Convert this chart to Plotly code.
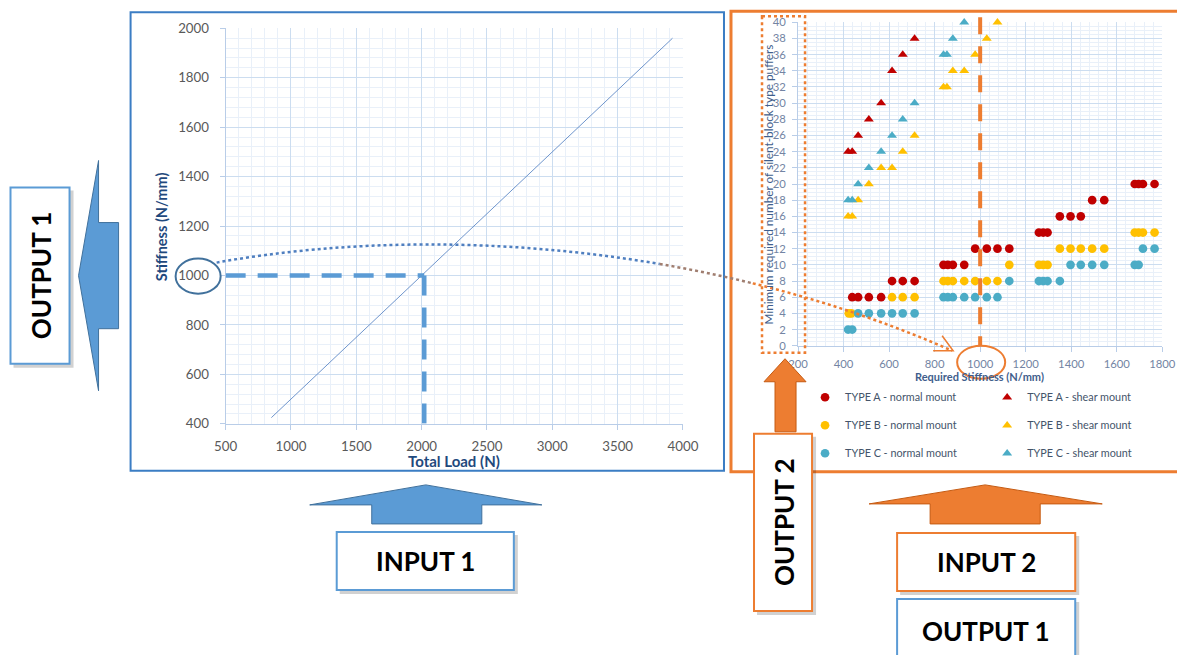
import plotly.graph_objects as go

# Figure canvas; layout positions below are given in window pixels and
# converted to paper fractions by px()/py().
W, H = 1200, 672
SX, OX = 0.976, 10.5   # window px = OX + SX * figure px (horizontal)
SY, OY = 0.975, 7.7    # window px = OY + SY * figure px (vertical)

# ---------------- data ----------------
# Stiffness vs total load (linear characteristic)
total_load = [850, 3920]
stiffness = [425, 1960]

# Required stiffness (N/mm) vs minimum number of silent-block puffers
a_normal_x = [438, 464, 511, 565, 613, 660, 712, 839, 858, 880, 930, 978, 1029, 1076, 1128,
              1258, 1277, 1296, 1350, 1397, 1442, 1492, 1545, 1679, 1696, 1715, 1766]
a_normal_y = [6, 6, 6, 6, 8, 8, 8, 10, 10, 10, 10, 12, 12, 12, 12,
              14, 14, 14, 16, 16, 16, 18, 18, 20, 20, 20, 20]

b_normal_x = [423, 434, 613, 660, 712, 839, 858, 880, 930, 978, 1029, 1076, 1128,
              1258, 1277, 1296, 1350, 1397, 1442, 1492, 1545, 1679, 1696, 1715, 1766]
b_normal_y = [4, 4, 6, 6, 6, 8, 8, 8, 8, 8, 8, 8, 10,
              10, 10, 10, 12, 12, 12, 12, 12, 14, 14, 14, 14]

c_normal_x = [420, 438, 464, 511, 565, 613, 660, 712, 839, 858, 880, 930, 978, 1029, 1076,
              1128, 1258, 1277, 1296, 1350, 1397, 1442, 1492, 1545, 1679, 1696, 1715, 1766]
c_normal_y = [2, 2, 4, 4, 4, 4, 4, 4, 6, 6, 6, 6, 6, 6, 6,
              8, 8, 8, 8, 8, 10, 10, 10, 10, 10, 10, 12, 12]

a_shear_x = [420, 438, 464, 511, 565, 613, 660, 712]
a_shear_y = [24, 24, 26, 28, 30, 34, 36, 38]

b_shear_x = [420, 438, 464, 511, 565, 613, 660, 712, 839, 854, 880, 930, 978, 1029, 1076]
b_shear_y = [16, 16, 18, 20, 22, 22, 24, 26, 32, 32, 34, 34, 36, 38, 40]

c_shear_x = [420, 438, 464, 511, 565, 613, 660, 712, 839, 854, 880, 930]
c_shear_y = [18, 18, 20, 22, 24, 26, 28, 30, 36, 36, 38, 40]

RED, YEL, TEAL = "#C00000", "#FFC000", "#4BACC6"
BLUE, BLUE_D, ORANGE = "#5B9BD5", "#41719C", "#ED7D31"


def px(x):
    """window x pixel -> paper fraction"""
    return ((x - OX) / SX) / W


def py(y):
    """window y pixel (from top) -> paper fraction"""
    return 1 - ((y - OY) / SY) / H


fig = go.Figure()

# left chart: characteristic line
fig.add_trace(go.Scatter(x=total_load, y=stiffness, mode="lines",
                         line=dict(color="#6F95CC", width=1), showlegend=False,
                         xaxis="x", yaxis="y"))

series = [
    ("TYPE A - normal mount", a_normal_x, a_normal_y, RED, "circle", "legend"),
    ("TYPE B - normal mount", b_normal_x, b_normal_y, YEL, "circle", "legend"),
    ("TYPE C - normal mount", c_normal_x, c_normal_y, TEAL, "circle", "legend"),
    ("TYPE A - shear mount", a_shear_x, a_shear_y, RED, "triangle-up", "legend2"),
    ("TYPE B - shear mount", b_shear_x, b_shear_y, YEL, "triangle-up", "legend2"),
    ("TYPE C - shear mount", c_shear_x, c_shear_y, TEAL, "triangle-up", "legend2"),
]
for i, (name, xs, ys, col, sym, leg) in enumerate(series):
    fig.add_trace(go.Scatter(x=xs, y=ys, mode="markers", name=name, cliponaxis=False,
                             marker=dict(color=col, symbol=sym, size=8.7, line=dict(width=0)),
                             xaxis="x2", yaxis="y2", legend=leg, legendgroup=str(i)))

grid_major = "#CCDDF0"
grid_minor = "#E9F0F9"
tick_col = "#595959"

shapes = []


def rect(x0, y0, x1, y1, line_col, width=2, fill="white", dash=None, shadow=False):
    if shadow:
        shapes.append(dict(type="rect", xref="paper", yref="paper",
                           x0=px(x0 + 3), x1=px(x1 + 4), y0=py(y0 + 3), y1=py(y1 + 4),
                           line=dict(width=0), fillcolor="rgba(0,0,0,0.18)"))
    d = dict(color=line_col, width=width)
    if dash:
        d["dash"] = dash
    shapes.append(dict(type="rect", xref="paper", yref="paper",
                       x0=px(x0), x1=px(x1), y0=py(y0), y1=py(y1),
                       line=d, fillcolor=fill))


def poly(points, fill, edge):
    path = "M " + " L ".join(f"{px(x)},{py(y)}" for x, y in points) + " Z"
    shapes.append(dict(type="path", xref="paper", yref="paper", path=path,
                       fillcolor=fill, line=dict(color=edge, width=1)))


# chart frames
rect(129, 12, 722, 470, "#3B7DC4", width=2, fill="rgba(0,0,0,0)")
rect(729, 11, 1195, 471, ORANGE, width=3, fill="rgba(0,0,0,0)")

# left chart: reading lines at 1000 N/mm
shapes.append(dict(type="line", xref="x", yref="y", x0=500, x1=2020, y0=1000, y1=1000,
                   line=dict(color=BLUE, width=4.5, dash="20px,12px")))
shapes.append(dict(type="line", xref="x", yref="y", x0=2020, x1=2020, y0=1000, y1=400,
                   line=dict(color=BLUE, width=4.5, dash="20px,12px")))
shapes.append(dict(type="circle", xref="paper", yref="paper",
                   x0=px(174), x1=px(219), y0=py(258), y1=py(293),
                   line=dict(color=BLUE_D, width=2)))

# right chart: vertical marker at 1000 N/mm
shapes.append(dict(type="line", xref="x2", yref="paper", x0=1000, x1=1000,
                   y0=py(17), y1=py(345),
                   line=dict(color=ORANGE, width=4, dash="17px,12px")))
shapes.append(dict(type="circle", xref="paper", yref="paper",
                   x0=px(955), x1=px(1003), y0=py(345), y1=py(378),
                   line=dict(color=ORANGE, width=2)))
# dotted frame around the count axis
shapes.append(dict(type="rect", xref="paper", yref="paper",
                   x0=px(760), x1=px(803), y0=py(16), y1=py(352),
                   line=dict(color=ORANGE, width=2.5, dash="dot")))

# dotted connector curve (cubic Bezier split into coloured parts)
P = [(215, 262), (420, 225), (700, 240), (950, 350)]


def lerp(a, b, t):
    return (a[0] + (b[0] - a[0]) * t, a[1] + (b[1] - a[1]) * t)


def split(pts, t):
    p01, p12, p23 = lerp(pts[0], pts[1], t), lerp(pts[1], pts[2], t), lerp(pts[2], pts[3], t)
    a, b = lerp(p01, p12, t), lerp(p12, p23, t)
    m = lerp(a, b, t)
    return [pts[0], p01, a, m], [m, b, p23, pts[3]]


first, rest = split(P, 0.62)
mid, last = split(rest, (0.74 - 0.62) / (1 - 0.62))
for seg, col in [(first, "#4F7FC0"), (mid, "#A07E70"), (last, ORANGE)]:
    path = f"M {px(seg[0][0])},{py(seg[0][1])} C " + " ".join(
        f"{px(x)},{py(y)}" for x, y in seg[1:])
    shapes.append(dict(type="path", xref="paper", yref="paper", path=path,
                       line=dict(color=col, width=2.5, dash="dot")))
# open arrow head
shapes.append(dict(type="path", xref="paper", yref="paper",
                   path=f"M {px(940)},{py(335)} L {px(951)},{py(350)} L {px(931)},{py(350)}",
                   line=dict(color=ORANGE, width=1.5)))

# block arrows
poly([(97, 160), (97, 222), (117, 222), (117, 328), (97, 328), (97, 390), (77, 275)], BLUE, BLUE_D)
poly([(308, 504), (424, 484), (540, 504), (480, 504), (480, 523), (370, 523), (370, 504)], BLUE, BLUE_D)
poly([(867, 503), (983, 484), (1100, 503), (1038, 503), (1038, 523), (928, 523), (928, 503)], ORANGE, "#C55A11")
poly([(762, 381), (783, 358), (804, 381), (794, 381), (794, 431), (773, 431), (773, 381)], ORANGE, "#C55A11")

# label boxes
rect(9, 187, 68, 363, BLUE, shadow=True)
rect(335, 531, 512, 589, BLUE, shadow=True)
rect(752, 433, 810, 610, ORANGE, shadow=True)
rect(895, 532, 1073, 590, ORANGE, shadow=True)
rect(895, 598, 1073, 670, BLUE, shadow=True)

box_font = dict(family="Lato", size=26, color="black")
annotations = [
    dict(text="<b>OUTPUT 1</b>", x=px(39), y=py(275), textangle=-90, font=box_font),
    dict(text="<b>INPUT 1</b>", x=px(424), y=py(560), font=box_font),
    dict(text="<b>OUTPUT 2</b>", x=px(782), y=py(521), textangle=-90, font=box_font),
    dict(text="<b>INPUT 2</b>", x=px(984), y=py(561), font=box_font),
    dict(text="<b>OUTPUT 1</b>", x=px(984), y=py(630), font=box_font),
    # axis titles
    dict(text="<b>Stiffness (N/mm)</b>", x=px(160), y=py(226), textangle=-90,
         font=dict(family="Lato", size=14.5, color="#1F497D")),
    dict(text="<b>Total Load (N)</b>", x=px(452), y=py(460),
         font=dict(family="Lato", size=15, color="#1F497D")),
    dict(text="<b>Required Stiffness (N/mm)</b>", x=px(977), y=py(376),
         font=dict(family="Lato", size=11, color="#3F5E8C")),
    dict(text="Minimum required number of silent-block type puffers", x=px(766), y=py(184),
         textangle=-90, font=dict(family="Lato", size=11.8, color="#3F5E8C")),
]
for a in annotations:
    a.update(xref="paper", yref="paper", showarrow=False, xanchor="center", yanchor="middle")

axis_common = dict(showline=True, linecolor="#B9CDE8", linewidth=1, ticks="outside",
                   tickcolor="#B9CDE8", ticklen=5, zeroline=False, gridcolor=grid_major,
                   gridwidth=1)

legend_font = dict(size=10.8, color="#44546A")
fig.update_layout(
    width=W, height=H, margin=dict(l=0, r=0, t=0, b=0),
    paper_bgcolor="white", plot_bgcolor="white",
    font=dict(family="Lato"),
    xaxis=dict(domain=[px(224), px(681)], range=[500, 4000], dtick=500, anchor="y",
               tickfont=dict(size=13.3, color=tick_col), ticklabelstandoff=5,
               minor=dict(dtick=100, showgrid=True, gridcolor=grid_minor, ticks=""),
               **axis_common),
    yaxis=dict(domain=[py(423), py(28)], range=[400, 2000], dtick=200, anchor="x",
               tickfont=dict(size=13.3, color=tick_col), ticklabelstandoff=8,
               minor=dict(dtick=40, showgrid=True, gridcolor=grid_minor, ticks=""),
               **axis_common),
    xaxis2=dict(domain=[px(796), px(1160)], range=[200, 1800], dtick=200, anchor="y2",
                tickfont=dict(size=11.3, color="#7384A3"), ticklabelstandoff=3,
                minor=dict(dtick=40, showgrid=True, gridcolor=grid_minor, ticks=""),
                **axis_common),
    yaxis2=dict(domain=[py(345), py(22)], range=[0, 40], dtick=2, anchor="x2",
                tickfont=dict(size=11.3, color="#7384A3"), ticklabelstandoff=4,
                minor=dict(dtick=0.5, showgrid=True, gridcolor=grid_minor, ticks=""),
                **axis_common),
    legend=dict(x=px(803), y=py(382), xanchor="left", yanchor="top",
                bgcolor="rgba(0,0,0,0)", font=legend_font, tracegroupgap=9, itemwidth=30),
    legend2=dict(x=px(985), y=py(382), xanchor="left", yanchor="top",
                 bgcolor="rgba(0,0,0,0)", font=legend_font, tracegroupgap=9, itemwidth=30),
    shapes=shapes,
    annotations=annotations,
)

fig.write_html("out.html")
